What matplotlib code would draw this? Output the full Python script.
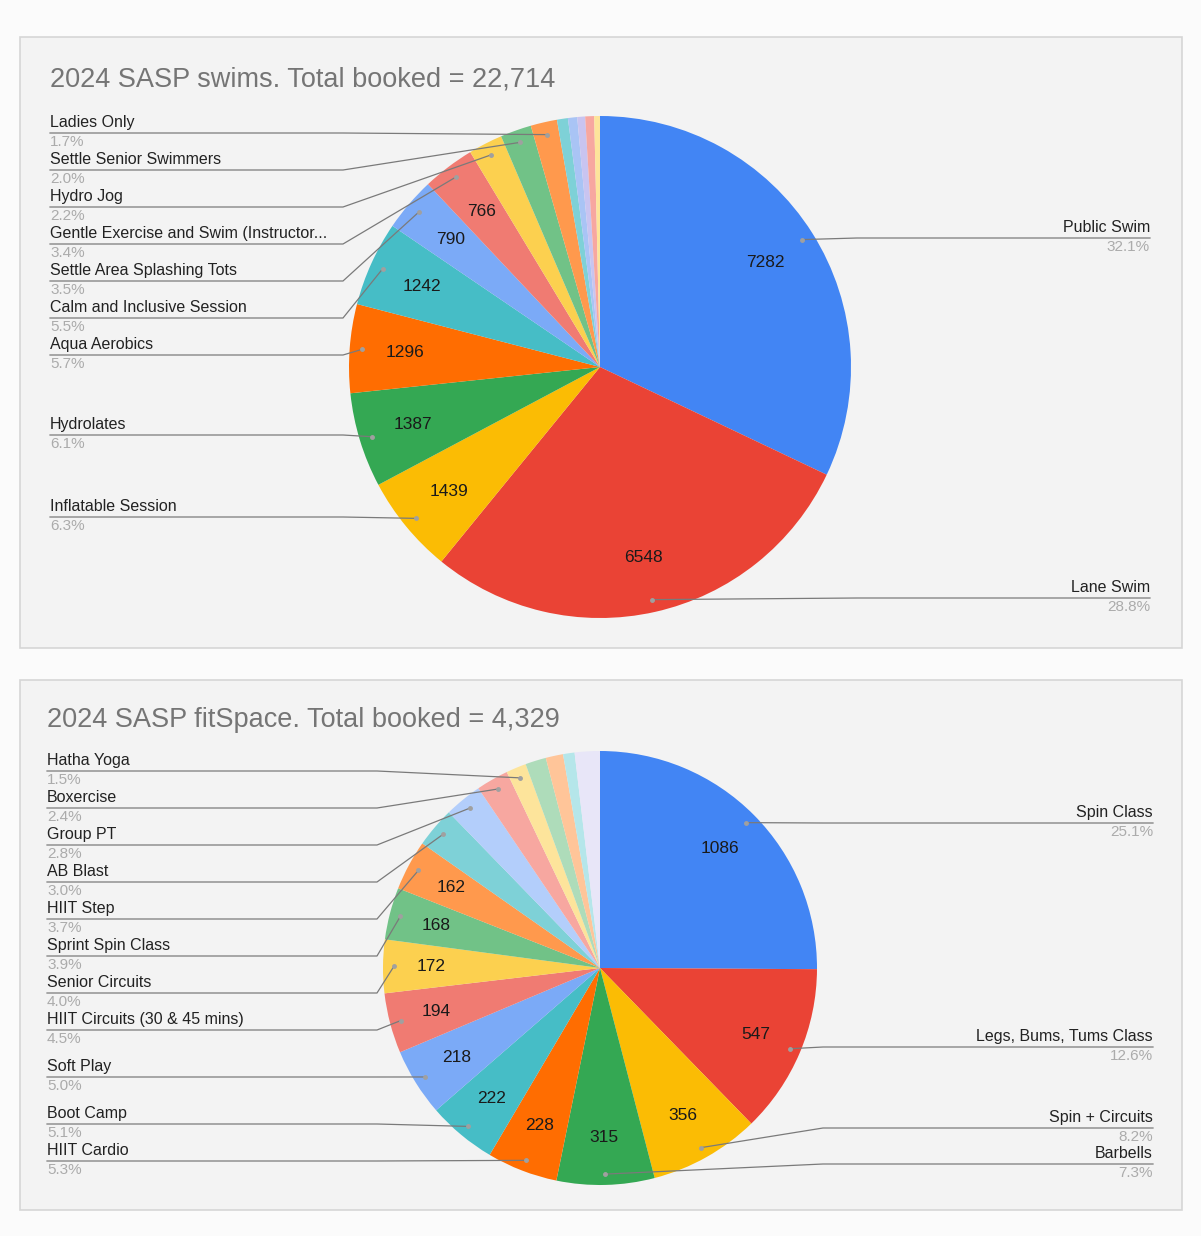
import math
import matplotlib.pyplot as plt
from matplotlib.patches import Rectangle

W, H = 1201, 1236

# 2024 SASP swims (small unlabelled slices at the end)
swim_title = "2024 SASP swims. Total booked = 22,714"
swim_names = ["Public Swim", "Lane Swim", "Inflatable Session", "Hydrolates",
              "Aqua Aerobics", "Calm and Inclusive Session",
              "Settle Area Splashing Tots", "Gentle Exercise and Swim (Instructor...",
              "Hydro Jog", "Settle Senior Swimmers", "Ladies Only",
              "", "", "", "", ""]
swim_values = [7282, 6548, 1439, 1387, 1296, 1242, 790, 766, 500, 454, 386,
               160, 135, 115, 130, 84]

# 2024 SASP fitSpace
fit_title = "2024 SASP fitSpace. Total booked = 4,329"
fit_names = ["Spin Class", "Legs, Bums, Tums Class", "Spin + Circuits", "Barbells",
             "HIIT Cardio", "Boot Camp", "Soft Play", "HIIT Circuits (30 & 45 mins)",
             "Senior Circuits", "Sprint Spin Class", "HIIT Step", "AB Blast",
             "Group PT", "Boxercise", "Hatha Yoga", "", "", "", ""]
fit_values = [1086, 547, 356, 315, 228, 222, 218, 194, 172, 168, 162, 130,
              121, 104, 65, 67, 56, 37, 81]

swim_colors = ["#4285F4", "#EA4335", "#FBBC04", "#34A853", "#FF6D01", "#46BDC6",
               "#7BAAF7", "#F07B72", "#FCD04F", "#71C287", "#FF994D",
               "#7ED1D7", "#A9C4F5", "#C9C4F0", "#F7A7A0", "#FDE49B"]
fit_colors = ["#4285F4", "#EA4335", "#FBBC04", "#34A853", "#FF6D01", "#46BDC6",
              "#7BAAF7", "#F07B72", "#FCD04F", "#71C287", "#FF994D",
              "#7ED1D7", "#B3CEFB", "#F7A7A0", "#FDE49B", "#AEDCBA", "#FFC599",
              "#B5E6EA", "#E8E6F8"]

plt.rcParams['font.family'] = ['Liberation Sans', 'DejaVu Sans']

fig = plt.figure(figsize=(W / 100, H / 100), dpi=100, facecolor='#fbfbfb')
ax = fig.add_axes([0, 0, 1, 1])


def Y(y):
    return H - y


def draw_chart(title, names, values, colors, cx, cy, r, panel, title_x, title_y,
               left_x, right_x, left_ys, right_ys):
    x0, y0, x1, y1 = panel
    ax.add_patch(Rectangle((x0, Y(y1)), x1 - x0, y1 - y0, facecolor='#f3f3f3',
                           edgecolor='#d6d6d6', lw=1.2))
    ax.text(title_x, Y(title_y), title, fontsize=19.5, color='#757575',
            ha='left', va='center')
    ax.pie(values, colors=colors, startangle=90, counterclock=False,
           center=(cx, Y(cy)), radius=r, frame=True,
           wedgeprops=dict(linewidth=0))
    total = sum(values)
    cum = 0
    left, right = [], []
    for name, v in zip(names, values):
        mid = (cum + v / 2) / total * 360
        cum += v
        th = math.radians(90 - mid)
        pct = 100 * v / total
        if pct >= 3.2:
            ax.text(cx + 0.78 * r * math.cos(th), Y(cy) + 0.78 * r * math.sin(th),
                    str(v), fontsize=12.5, color='#1a1a1a', ha='center', va='center')
        if name:
            dx = cx + 0.95 * r * math.cos(th)
            dy = Y(cy) + 0.95 * r * math.sin(th)
            item = (dy, dx, name, pct)
            (right if mid < 180 else left).append(item)
    left.sort(reverse=True)
    right.sort(reverse=True)
    for (dy, dx, name, pct), ly in zip(left, left_ys):
        bx = cx - r - 6
        ax.plot([left_x, bx, dx], [Y(ly), Y(ly), dy], color='#7a7a7a', lw=0.9)
        ax.plot(dx, dy, 'o', ms=2.5, color='#a0a0a0')
        ax.text(left_x, Y(ly) + 3, name, fontsize=11.5, color='#222222',
                ha='left', va='bottom')
        ax.text(left_x, Y(ly) - 2, f"{pct:.1f}%", fontsize=11, color='#ababab',
                ha='left', va='top')
    for (dy, dx, name, pct), ly in zip(right, right_ys):
        bx = cx + r + 6
        ax.plot([right_x, bx, dx], [Y(ly), Y(ly), dy], color='#7a7a7a', lw=0.9)
        ax.plot(dx, dy, 'o', ms=2.5, color='#a0a0a0')
        ax.text(right_x, Y(ly) + 3, name, fontsize=11.5, color='#222222',
                ha='right', va='bottom')
        ax.text(right_x, Y(ly) - 2, f"{pct:.1f}%", fontsize=11, color='#ababab',
                ha='right', va='top')


draw_chart(swim_title, swim_names, swim_values, swim_colors,
           600, 367, 251, (20, 37, 1182, 648), 50, 80, 50, 1150,
           [133, 170, 207, 244, 281, 318, 355, 435, 517], [238, 598])
draw_chart(fit_title, fit_names, fit_values, fit_colors,
           600, 968, 217, (20, 680, 1182, 1210), 47, 720, 47, 1153,
           [771, 808, 845, 882, 919, 956, 993, 1030, 1077, 1124, 1161],
           [823, 1047, 1128, 1164])

ax.set_xlim(0, W)
ax.set_ylim(0, H)
ax.set_aspect('auto')
ax.axis('off')
fig.savefig('out.png', dpi=100, facecolor=fig.get_facecolor())
